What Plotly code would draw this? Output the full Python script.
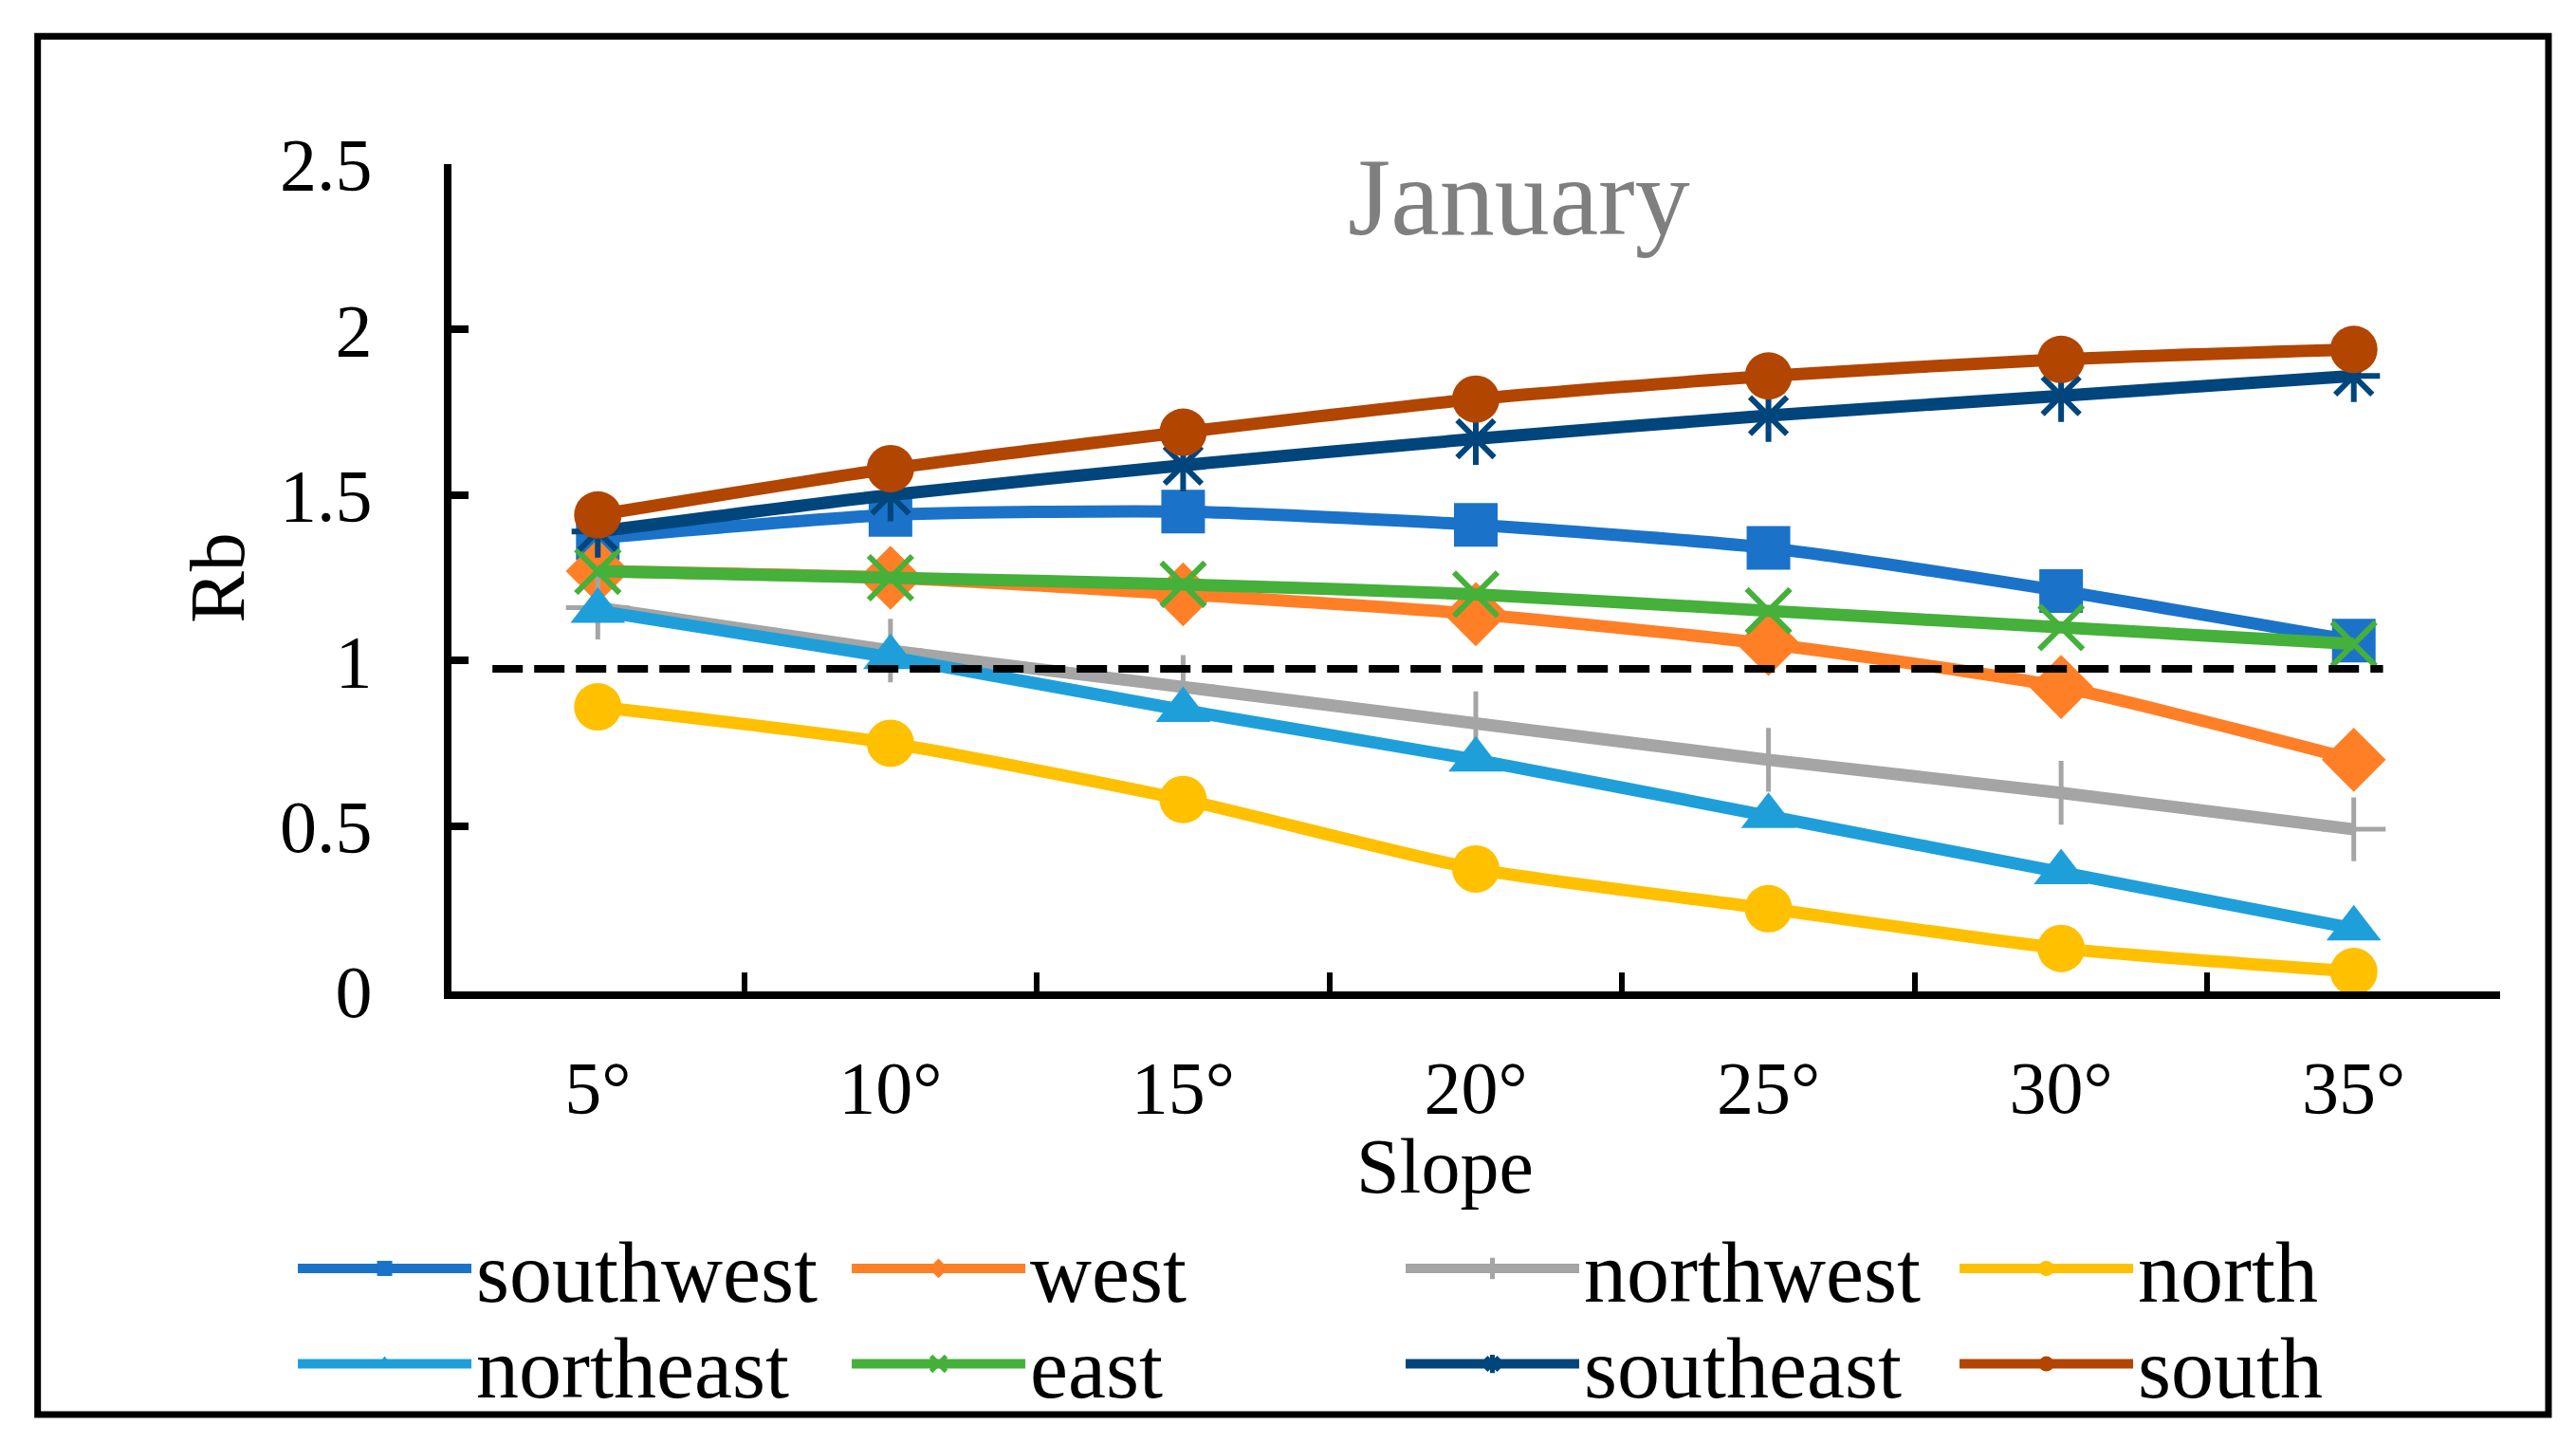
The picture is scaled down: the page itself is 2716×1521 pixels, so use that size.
import plotly.graph_objects as go

slopes = ["5°", "10°", "15°", "20°", "25°", "30°", "35°"]
southwest = [1.37, 1.44, 1.45, 1.41, 1.34, 1.21, 1.06]
west = [1.27, 1.25, 1.20, 1.14, 1.05, 0.92, 0.70]
northwest = [1.16, 1.03, 0.92, 0.81, 0.70, 0.60, 0.49]
north = [0.86, 0.75, 0.58, 0.37, 0.25, 0.13, 0.06]
northeast = [1.15, 1.01, 0.85, 0.70, 0.53, 0.36, 0.19]
east = [1.27, 1.25, 1.23, 1.20, 1.15, 1.10, 1.05]
southeast = [1.39, 1.50, 1.59, 1.67, 1.74, 1.80, 1.86]
south = [1.44, 1.58, 1.69, 1.79, 1.86, 1.91, 1.94]
reference_level = 0.975
y_ticks = [0, 0.5, 1, 1.5, 2, 2.5]
y_tick_labels = ["0", "0.5", "1", "1.5", "2", "2.5"]

FONT = "Liberation Serif, Times New Roman, serif"

series = [
    ("southwest", southwest, "#1A73C9", dict(symbol="square", size=46), "legend"),
    ("west", west, "#FF7F27", dict(symbol="diamond", size=52), "legend"),
    ("northwest", northwest, "#A5A5A5", dict(symbol="cross-thin-open", size=48, line=dict(width=5, color="#A5A5A5")), "legend"),
    ("north", north, "#FFC000", dict(symbol="circle", size=50), "legend"),
    ("northeast", northeast, "#1F9FDA", dict(symbol="triangle-up", size=50), "legend2"),
    ("east", east, "#45B03A", dict(symbol="x-thin-open", size=46, line=dict(width=6, color="#45B03A")), "legend2"),
    ("southeast", southeast, "#00457C", dict(symbol="asterisk-open", size=46, line=dict(width=6, color="#00457C")), "legend2"),
    ("south", south, "#B24500", dict(symbol="circle", size=50), "legend2"),
]

fig = go.Figure()
for name, vals, color, mk, lg in series:
    fig.add_trace(go.Scatter(
        x=slopes, y=vals, name=name, mode="lines+markers", legend=lg,
        line=dict(color=color, width=13, shape="spline", smoothing=0.6),
        marker=dict(color=color, **mk),
    ))

fig.add_shape(type="line", xref="x", yref="y", x0=-0.36, x1=6.1,
              y0=reference_level, y1=reference_level,
              line=dict(color="black", width=8, dash="32px,12px"))

# outer frame
fig.add_shape(type="rect", xref="paper", yref="paper",
              x0=-0.202, x1=1.0236, y0=-0.5115, y1=1.1545,
              line=dict(color="black", width=7), fillcolor="rgba(0,0,0,0)")

fig.add_annotation(text="January", xref="paper", yref="paper", x=0.521, y=0.96,
                   xanchor="center", yanchor="middle",
                   showarrow=False, font=dict(family=FONT, size=116, color="#7F7F7F"))

fig.add_annotation(text="Slope", xref="paper", yref="paper", x=0.485, y=-0.212,
                   xanchor="center", yanchor="middle",
                   showarrow=False, font=dict(family=FONT, size=82, color="black"))

legend_common = dict(orientation="h", xanchor="left", yanchor="middle",
                     font=dict(family=FONT, size=90, color="black"),
                     itemwidth=183, entrywidth=386, entrywidthmode="pixels",
                     bgcolor="rgba(0,0,0,0)", traceorder="normal")

# page body has an 8px margin, so the figure is drawn 8px smaller and shifted
fig.update_layout(
    width=2700, height=1505,
    margin=dict(l=468, r=72, t=165, b=467),
    paper_bgcolor="white", plot_bgcolor="white",
    font=dict(family=FONT, color="black"),
    showlegend=True,
    legend=dict(x=-0.0773, y=-0.3333, **legend_common),
    legend2=dict(x=-0.0773, y=-0.4485, **legend_common),
)

fig.update_xaxes(
    type="category", categoryorder="array", categoryarray=slopes,
    range=[-0.5, 6.5], showline=True, linecolor="black", linewidth=8,
    showgrid=False, zeroline=False,
    ticks="inside", tickson="boundaries", ticklen=20, tickwidth=6, tickcolor="black",
    tickfont=dict(family=FONT, size=78, color="black"), ticklabelstandoff=26,
)
fig.update_yaxes(
    range=[0, 2.5], tickvals=y_ticks, ticktext=y_tick_labels,
    showline=True, linecolor="black", linewidth=8,
    showgrid=False, zeroline=False,
    ticks="inside", ticklen=18, tickwidth=8, tickcolor="black",
    tickfont=dict(family=FONT, size=78, color="black"), ticklabelstandoff=60,
    title=dict(text="Rb", font=dict(family=FONT, size=82, color="black"), standoff=13),
)

fig.write_html("out.html")
